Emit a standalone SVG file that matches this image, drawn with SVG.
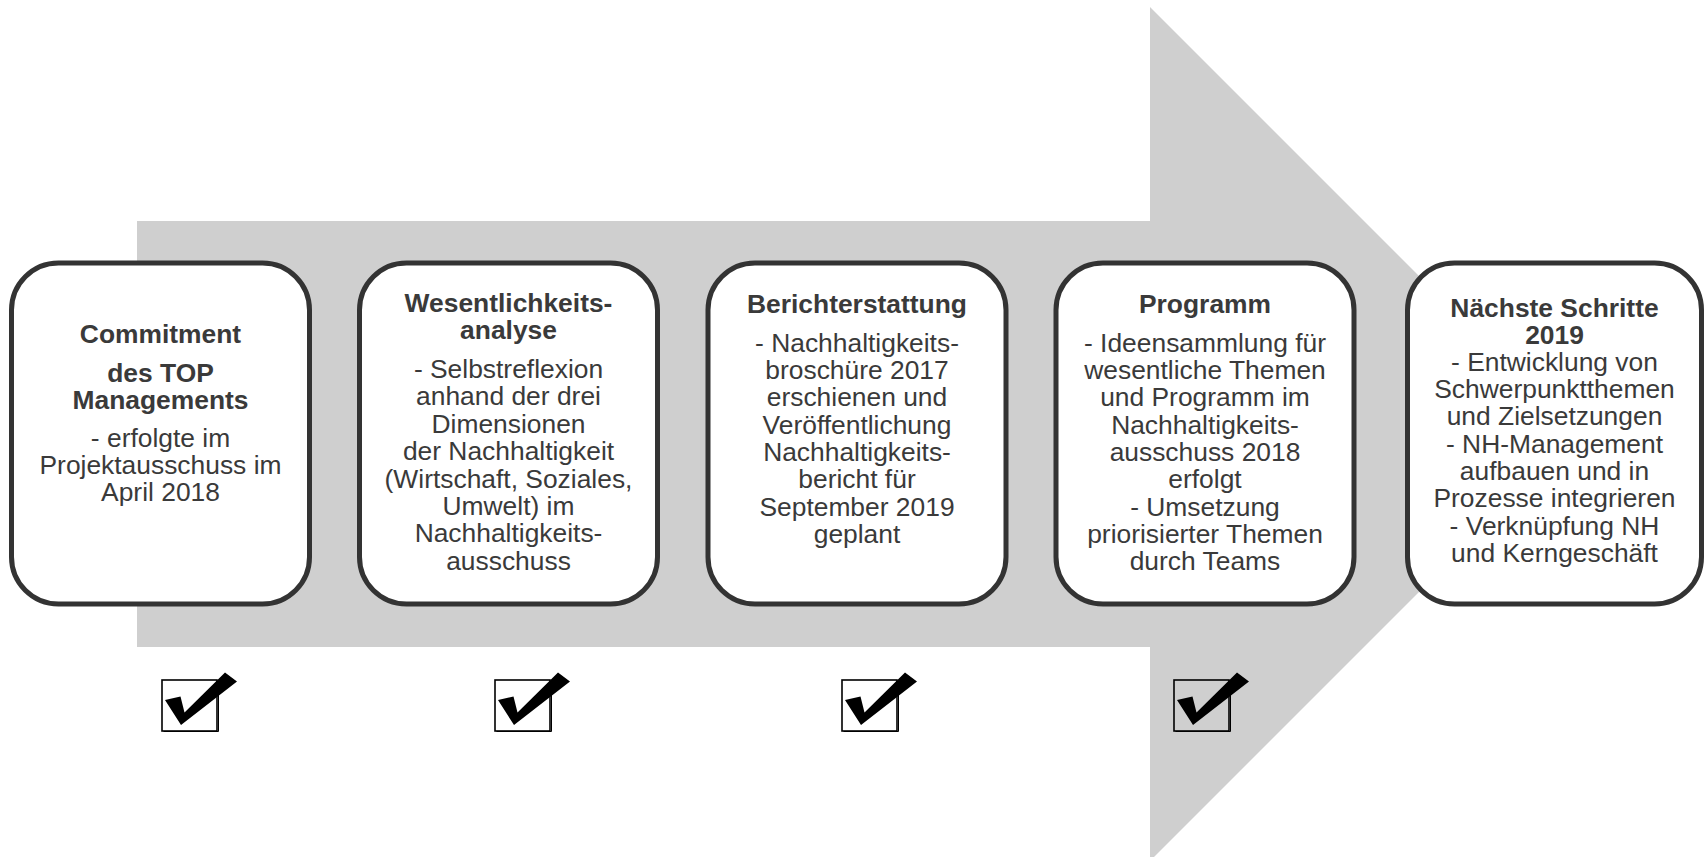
<svg xmlns="http://www.w3.org/2000/svg" xmlns:xlink="http://www.w3.org/1999/xlink" width="1705" height="857" viewBox="0 0 1705 857">
  <style>
    .box { fill: #ffffff; stroke: #333333; stroke-width: 5; }
    .t { font-family: "Liberation Sans", Arial, sans-serif; font-size: 26.4px; fill: #3a3a3a; text-anchor: middle; }
    .b { font-weight: bold; }
    .arrow { fill: #cfcfcf; }
  </style>
  <defs>
    <!-- checkbox with tick, drawn from its top-left corner -->
    <g id="tick">
      <rect x="0" y="0" width="55" height="51" fill="none" stroke="#000000" stroke-width="1.6"/>
      <path d="M1.5,51.5 H56.5 V1.5" fill="none" stroke="#000000" stroke-width="1"/>
      <polygon points="3,20 18.5,16.5 22.5,32.5 63,-7.5 75,1.5 19,45" fill="#000000"/>
    </g>
  </defs>

  <!-- process arrow behind the steps -->
  <g id="connectors">
    <polygon class="arrow" points="137,221 1150,221 1150,7 1577,434 1150,861 1150,647 137,647"/>
  </g>

  <g id="step-commitment">
    <rect class="box" x="11.5" y="263" width="298" height="341" rx="47"/>
    <text class="t b" x="160.5" y="343.3">Commitment</text>
    <text class="t b" x="160.5" y="381.7">des TOP</text>
    <text class="t b" x="160.5" y="408.5">Managements</text>
    <text class="t" x="160.5" y="446.7">- erfolgte im</text>
    <text class="t" x="160.5" y="474">Projektausschuss im</text>
    <text class="t" x="160.5" y="501.3">April 2018</text>
  </g>

  <g id="step-wesentlichkeit">
    <rect class="box" x="359.5" y="263" width="298" height="341" rx="47"/>
    <text class="t b" x="508.5" y="311.7">Wesentlichkeits-</text>
    <text class="t b" x="508.5" y="338.7">analyse</text>
    <text class="t" x="508.5" y="378">- Selbstreflexion</text>
    <text class="t" x="508.5" y="405.4">anhand der drei</text>
    <text class="t" x="508.5" y="432.8">Dimensionen</text>
    <text class="t" x="508.5" y="460.2">der Nachhaltigkeit</text>
    <text class="t" x="508.5" y="487.6">(Wirtschaft, Soziales,</text>
    <text class="t" x="508.5" y="515">Umwelt) im</text>
    <text class="t" x="508.5" y="542.4">Nachhaltigkeits-</text>
    <text class="t" x="508.5" y="569.8">ausschuss</text>
  </g>

  <g id="step-bericht">
    <rect class="box" x="708" y="263" width="298" height="341" rx="47"/>
    <text class="t b" x="857" y="313.3">Berichterstattung</text>
    <text class="t" x="857" y="351.7">- Nachhaltigkeits-</text>
    <text class="t" x="857" y="379">broschüre 2017</text>
    <text class="t" x="857" y="406.3">erschienen und</text>
    <text class="t" x="857" y="433.6">Veröffentlichung</text>
    <text class="t" x="857" y="460.9">Nachhaltigkeits-</text>
    <text class="t" x="857" y="488.2">bericht für</text>
    <text class="t" x="857" y="515.5">September 2019</text>
    <text class="t" x="857" y="542.8">geplant</text>
  </g>

  <g id="step-programm">
    <rect class="box" x="1056" y="263" width="298" height="341" rx="47"/>
    <text class="t b" x="1205" y="313.3">Programm</text>
    <text class="t" x="1205" y="351.7">- Ideensammlung für</text>
    <text class="t" x="1205" y="379">wesentliche Themen</text>
    <text class="t" x="1205" y="406.3">und Programm im</text>
    <text class="t" x="1205" y="433.6">Nachhaltigkeits-</text>
    <text class="t" x="1205" y="460.9">ausschuss 2018</text>
    <text class="t" x="1205" y="488.2">erfolgt</text>
    <text class="t" x="1205" y="515.5">- Umsetzung</text>
    <text class="t" x="1205" y="542.8">priorisierter Themen</text>
    <text class="t" x="1205" y="570.1">durch Teams</text>
  </g>

  <g id="step-naechste">
    <rect class="box" x="1407.5" y="263" width="294" height="341" rx="47"/>
    <text class="t b" x="1554.5" y="316.5">Nächste Schritte</text>
    <text class="t b" x="1554.5" y="343.5">2019</text>
    <text class="t" x="1554.5" y="370.8">- Entwicklung von</text>
    <text class="t" x="1554.5" y="398.1">Schwerpunktthemen</text>
    <text class="t" x="1554.5" y="425.4">und Zielsetzungen</text>
    <text class="t" x="1554.5" y="452.7">- NH-Management</text>
    <text class="t" x="1554.5" y="480">aufbauen und in</text>
    <text class="t" x="1554.5" y="507.3">Prozesse integrieren</text>
    <text class="t" x="1554.5" y="534.6">- Verknüpfung NH</text>
    <text class="t" x="1554.5" y="561.9">und Kerngeschäft</text>
  </g>

  <!-- completed-step ticks -->
  <g id="ticks">
    <use xlink:href="#tick" x="162" y="680"/>
    <use xlink:href="#tick" x="495" y="680"/>
    <use xlink:href="#tick" x="842" y="680"/>
    <use xlink:href="#tick" x="1174" y="680"/>
  </g>
</svg>
